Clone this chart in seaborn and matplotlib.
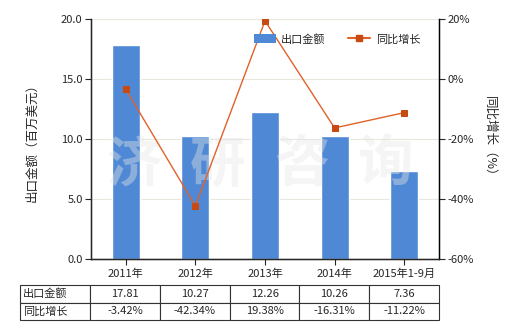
import matplotlib
matplotlib.use("Agg")
import matplotlib.pyplot as plt
import seaborn as sns
import pandas as pd
from matplotlib.patches import Patch
from matplotlib.lines import Line2D

categories = ["2011年", "2012年", "2013年", "2014年", "2015年1-9月"]
export_values = [17.81, 10.27, 12.26, 10.26, 7.36]
yoy_growth = [-3.42, -42.34, 19.38, -16.31, -11.22]
row_labels = ["出口金额", "同比增长"]
bar_label = "出口金额"
line_label = "同比增长"
left_ylabel = "出口金额（百万美元）"
right_ylabel = "同比增长（%）"
watermark = "济研咨询"

sns.set_style("white")
plt.rcParams['font.family'] = ['Noto Sans CJK SC', 'DejaVu Sans']
plt.rcParams['axes.unicode_minus'] = False

bar_color = "#4f89d5"
line_color = "#e0622a"
marker_color = "#c84a12"
fs = 8

df = pd.DataFrame({"cat": categories, "val": export_values, "yoy": yoy_growth})

fig = plt.figure(figsize=(5.2, 3.3), dpi=100)
ax = fig.add_axes([91/520, 1-259/330, 348/520, 240/330])
sns.barplot(data=df, x="cat", y="val", color=bar_color, width=0.4,
            saturation=1, ax=ax, zorder=2)
ax.set_ylim(0, 20)
ax.set_yticks([0, 5, 10, 15, 20])
ax.set_yticklabels([f"{v:.1f}" for v in [0, 5, 10, 15, 20]], fontsize=fs)
ax.set_xlim(-0.5, 4.5)
ax.set_xlabel("")
ax.set_ylabel(left_ylabel, fontsize=9, labelpad=16)
ax.tick_params(axis='x', labelsize=fs, length=4, direction='out', bottom=True, pad=3)
ax.tick_params(axis='y', length=4, direction='out', left=True, pad=2)
ax.grid(axis='y', color='#e9e7dd', linewidth=0.8, zorder=0)
ax.set_axisbelow(True)
ax.spines['top'].set_visible(False)
for s in ['left', 'bottom', 'right']:
    ax.spines[s].set_color('black')
    ax.spines[s].set_linewidth(1)

# watermark
for i, ch in enumerate(watermark):
    ax.text(0.125 + i*0.24, 0.39, ch, transform=ax.transAxes, fontsize=40,
            fontweight='bold', color='#e6e6e6', alpha=0.4, ha='center',
            va='center', zorder=3)

ax2 = ax.twinx()
sns.pointplot(data=df, x="cat", y="yoy", color=line_color, markers='s',
              linestyles='-', ax=ax2, linewidth=1, markersize=4.5,
              markerfacecolor=marker_color, markeredgecolor=marker_color)
for ln in ax2.lines:
    ln.set_zorder(5)
    ln.set_markerfacecolor(marker_color)
    ln.set_markeredgecolor(marker_color)
ax2.set_ylim(-60, 20)
ax2.set_yticks([-60, -40, -20, 0, 20])
ax2.set_yticklabels([f"{v}%" for v in [-60, -40, -20, 0, 20]], fontsize=fs)
ax2.set_xlim(-0.5, 4.5)
ax2.set_xlabel("")
ax2.set_ylabel(right_ylabel, fontsize=9, rotation=-90, labelpad=16)
ax2.tick_params(axis='y', length=4, direction='out', right=True, pad=2)
ax2.tick_params(axis='x', bottom=False, labelbottom=False)
ax2.spines['top'].set_visible(False)
ax2.spines['right'].set_color('black')

handles = [Patch(facecolor=bar_color, edgecolor='none'),
           Line2D([0], [0], color=line_color, marker='s', markersize=4,
                  markerfacecolor=marker_color, markeredgecolor=marker_color, lw=1.5)]
ax2.legend(handles, [bar_label, line_label], loc='upper right',
           bbox_to_anchor=(0.975, 0.98), ncol=2, frameon=False, fontsize=fs,
           handlelength=2.0, handleheight=0.9, columnspacing=2.0, handletextpad=0.5)

# table
cell_text = [[f"{v:.2f}" for v in export_values],
             [f"{v:.2f}%" for v in yoy_growth]]
full = [[row_labels[r]] + cell_text[r] for r in range(2)]
x0 = (20 - 91) / 348
tbl = ax.table(cellText=full, cellLoc='center',
               bbox=[x0, (259-320)/240, 1 - x0, (320-285)/240],
               colWidths=[70] + [69.6]*5)
tbl.auto_set_font_size(False)
tbl.set_fontsize(fs)
for (r, c), cell in tbl.get_celld().items():
    cell.set_edgecolor('#333333')
    cell.set_linewidth(0.8)
    if c == 0:
        cell._loc = 'left'
        cell.PAD = 0.04
        cell.get_text().set_horizontalalignment('left')

fig.savefig("out.png", dpi=100)
